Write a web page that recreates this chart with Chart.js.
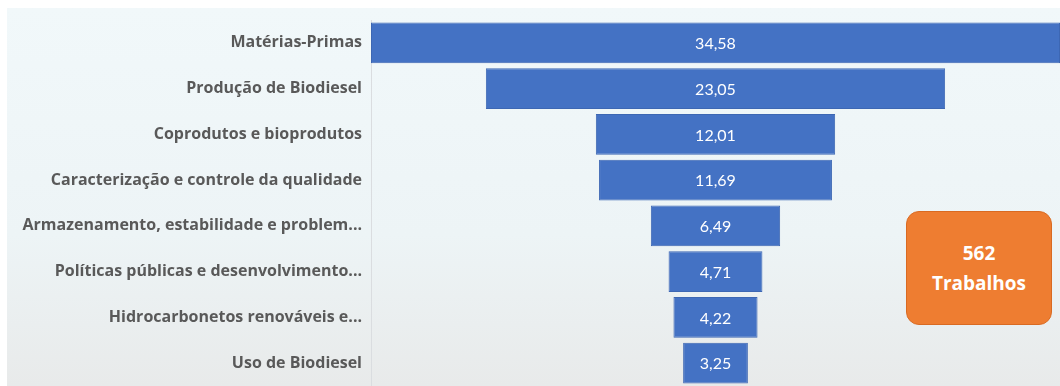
<!DOCTYPE html>
<html>
<head>
<meta charset="utf-8">
<script src="https://cdn.jsdelivr.net/npm/chart.js@4/dist/chart.umd.min.js"></script>
<style>
  html, body {
    margin: 0;
    padding: 0;
    background: #ffffff;
  }
  #wrap {
    position: relative;
    width: 1060px;
    height: 386px;
    overflow: hidden;
  }
  #panel {
    position: absolute;
    left: 7px;
    top: 8px;
    right: 0;
    bottom: 0;
    background: linear-gradient(180deg, #f1f8fa 0%, #edf4f6 60%, #e8eaea 100%);
  }
  #chartBox {
    position: absolute;
    left: 0;
    top: 0;
    width: 1060px;
    height: 386px;
  }
  #total {
    position: absolute;
    left: 906px;
    top: 211px;
    width: 144px;
    height: 112px;
    background: #ee7d31;
    border: 1px solid #d96a22;
    border-radius: 13px;
    color: #ffffff;
    font-family: "Open Sans", Lato, sans-serif;
    font-weight: bold;
    font-size: 19px;
    line-height: 30px;
    text-align: center;
    display: flex;
    flex-direction: column;
    justify-content: center;
  }
</style>
</head>
<body>
<div id="wrap">
  <div id="panel"></div>
  <div id="chartBox"><canvas id="funnel" width="1060" height="386"></canvas></div>
  <div id="total"><span>562</span><span>Trabalhos</span></div>
</div>
<script>
const categories = [
  "Matérias-Primas",
  "Produção de Biodiesel",
  "Coprodutos e bioprodutos",
  "Caracterização e controle da qualidade",
  "Armazenamento, estabilidade e problem...",
  "Políticas públicas e desenvolvimento...",
  "Hidrocarbonetos renováveis e...",
  "Uso de Biodiesel",
];
const values = [34.58, 23.05, 12.01, 11.69, 6.49, 4.71, 4.22, 3.25];

const maxValue = Math.max(...values);
// funnel: each bar floats centred on half of the largest value
const floating = values.map((v) => [(maxValue - v) / 2, (maxValue + v) / 2]);

const valueLabels = {
  id: "valueLabels",
  afterDatasetsDraw(chart) {
    const ctx = chart.ctx;
    const meta = chart.getDatasetMeta(0);
    ctx.save();
    ctx.fillStyle = "#ffffff";
    ctx.font = "16px Lato, 'Noto Sans', sans-serif";
    ctx.textAlign = "center";
    ctx.textBaseline = "middle";
    meta.data.forEach((bar, i) => {
      const props = bar.getProps(["x", "y", "base"], true);
      const cx = (props.x + props.base) / 2;
      ctx.fillText(values[i].toFixed(2).replace(".", ","), cx, props.y + 1);
    });
    ctx.restore();
  },
};

const ctx = document.getElementById("funnel").getContext("2d");
const chart = new Chart(ctx, {
  type: "bar",
  data: {
    labels: categories,
    datasets: [
      {
        data: floating,
        backgroundColor: "#4472c4",
        borderColor: "#3d67b3",
        borderWidth: 1,
        borderSkipped: false,
        barPercentage: 0.89,
        categoryPercentage: 1,
      },
    ],
  },
  options: {
    indexAxis: "y",
    responsive: false,
    animation: false,
    layout: {
      padding: { top: 20, right: 0, bottom: 0, left: 0 },
    },
    plugins: {
      legend: { display: false },
      tooltip: { enabled: false },
    },
    scales: {
      x: {
        display: false,
        min: 0,
        max: maxValue,
      },
      y: {
        grid: { display: false, drawTicks: false },
        border: { display: true, color: "#dadde0", width: 1 },
        ticks: {
          color: "#595959",
          padding: 9,
          font: { family: "'Open Sans', Lato, sans-serif", size: 16, weight: "bold" },
        },
        afterFit(scale) {
          scale.width = 371;
          scale.paddingTop = 0;
          scale.paddingBottom = 0;
        },
      },
    },
  },
  plugins: [valueLabels],
});
</script>
</body>
</html>
